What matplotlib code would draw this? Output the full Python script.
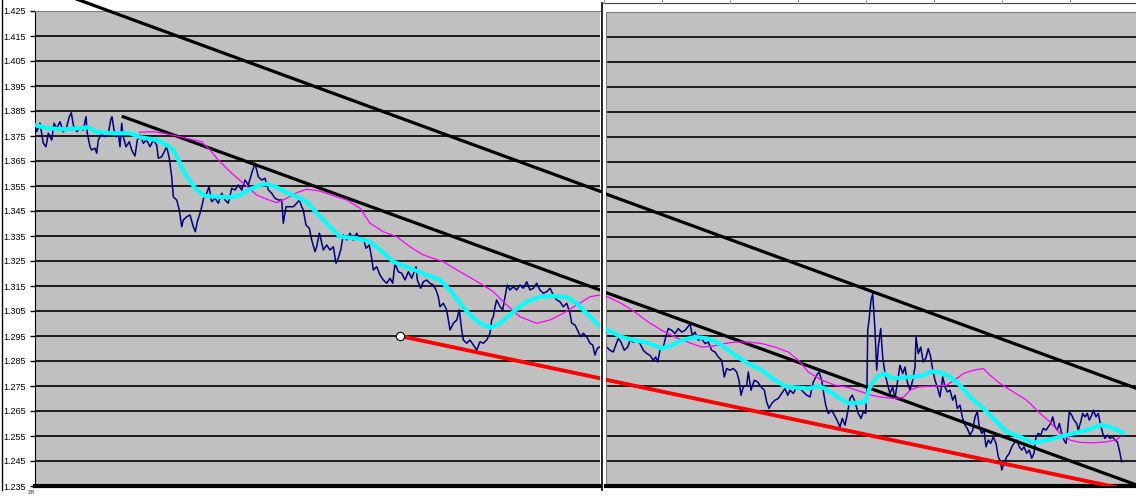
"""
channel chart: price with fast/slow averages and trend lines
"""

import numpy as np
import matplotlib.pyplot as plt
from matplotlib.lines import Line2D

# price (navy), sample index vs quote
price_t = [
    0, 1.7, 5, 8.3, 11, 13.3, 16.7, 19, 21.7, 25, 28.3, 31.7, 34.3, 36.3, 38.3, 41.7,
    45, 48.3, 51, 52.3, 55, 56.7, 60, 61.7, 63.3, 66.7, 70, 73.3, 75.7, 77, 79, 81.7,
    83.3, 85, 86.7, 88.3, 91, 94.3, 96.7, 100, 102.3, 105, 108.3, 111.7, 115, 118.3,
    121.7, 123.3, 126.7, 130, 131.7, 134.3, 136.7, 138.3, 141.7, 144.3, 146.7, 148.3,
    151.7, 155, 158.3, 160.3, 162.3, 165, 166.7, 169, 171.7, 174, 176.7, 180, 183.3,
    186.7, 190, 193.3, 196.7, 200, 203.3, 206.7, 210, 213.3, 216.7, 220, 223.3, 226.7,
    230, 233.3, 236.7, 240, 243.3, 246.7, 248.3, 251, 255, 258.3, 261.7, 264.3, 266.7,
    268.3, 271, 274.3, 276.7, 280, 281.7, 284.3,
    285, 288.3, 291.7, 295, 298.3, 301, 303.3, 305.7, 308.3, 311.7, 315, 318.3, 321.7,
    325, 328.3, 331, 334.3, 336.7, 338.3, 341.7, 345, 348.3, 351.7, 355, 357.7, 360,
    363.3, 366.7, 370, 373.3, 376.7, 381, 382.3, 385.7, 388.3, 391.7, 395, 398.3, 401,
    403.3, 405, 408.3, 411.7, 413.3, 415, 418.3, 421.7, 424.3, 426.7, 428.3, 431.7, 435,
    438.3, 441.7, 445, 448.3, 451.7, 455, 456.7, 458.3, 460, 461.7, 465, 467.7, 470,
    472.3, 475, 478.3, 481.7, 485, 488.3, 491.7, 495, 498.3, 501.7, 505, 508.3, 511.7,
    515, 518.3, 521.7, 525, 528.3, 531.7, 535, 536.7, 540, 543.3, 545.7, 548.3, 551.7,
    555, 557.7, 560, 562.3, 565,
    571.7, 575, 578.3, 580.7, 583.3, 586, 589.3, 592.7, 595, 598.3, 601.7, 605, 608.3,
    611.7, 615, 618.3, 620.7, 622.7, 625, 628.3, 630.7, 633.3, 636.7, 640, 643.3, 646.7,
    650, 652.7, 655, 657.3, 660, 663.3, 666.7, 670, 673.3, 676.7, 680, 683.3, 686.7,
    689.3, 691.7, 695, 698.3, 701.7, 704, 706, 708.3, 711.7, 713.3, 716, 719.3, 722.7,
    726, 729.3, 731.7, 734, 736.7, 740, 743.3, 746.7, 750, 752.7, 755, 758.3, 761.7,
    765, 768.3, 771.7, 775, 778.3, 781.7, 784, 786.7, 788.7, 790.7, 793.3, 796.7, 799.3,
    802, 805, 807.3, 810, 812.7, 815, 817.3, 820, 823.3, 826, 828.3, 830.7, 832, 832.7,
    834, 836, 837.7, 840, 841.7, 843.3, 845.7, 847.7, 850, 852.3, 855, 857.7, 860,
    862.3, 865, 867.7, 870, 872.3, 875, 877.7, 880, 881, 883.3, 885.7, 888.3, 890.7,
    893.3, 895.7, 897.7, 900, 902.3, 905, 907.7, 910, 912.3, 915, 917.7, 920, 922.3,
    925, 927.3, 930, 932.3, 935, 937.7, 940, 942.3, 944.3, 946.7, 949, 951, 953.3,
    955.7, 958.3, 961, 963.3, 965.7, 966.7, 969, 971.7, 974.3, 976.7, 979, 981.7, 984.3,
    986.7, 989, 991.7, 994.3, 996.7, 999, 1001, 1003.3, 1005.7, 1008.3, 1011, 1013.3,
    1015.7, 1017.7, 1020, 1022.3, 1024.3, 1026.7, 1029, 1031, 1032.3, 1034.3, 1036.7,
    1039, 1041.7, 1043.3, 1045.7, 1047.7, 1050, 1052.3, 1054.3, 1056.7, 1058.3, 1061,
    1063.3, 1065, 1067.7, 1070, 1072.3, 1075, 1077.7, 1080, 1082.3, 1084.3, 1086.7,
]
price_v = [
    1.3794, 1.3767, 1.3801, 1.3721, 1.3707, 1.3761, 1.3734, 1.3801, 1.3781, 1.3807,
    1.3767, 1.3787, 1.3827, 1.3843, 1.3794, 1.3767, 1.3781, 1.3774, 1.3827, 1.3761,
    1.3707, 1.3694, 1.3701, 1.3681, 1.3734, 1.3761, 1.3747, 1.3761, 1.3814, 1.3827,
    1.3774, 1.3747, 1.3761, 1.3707, 1.3801, 1.3747, 1.3707, 1.3727, 1.3694, 1.3670,
    1.3734, 1.3754, 1.3721, 1.3734, 1.3707, 1.3734, 1.3714, 1.3661, 1.3667, 1.3694,
    1.3707, 1.3661, 1.3587, 1.3507, 1.3494, 1.3454, 1.3387, 1.3414, 1.3427, 1.3434,
    1.3387, 1.3367, 1.3407, 1.3441, 1.3467, 1.3507, 1.3521, 1.3547, 1.3487, 1.3501,
    1.3481, 1.3521, 1.3494, 1.3481, 1.3541, 1.3534, 1.3554, 1.3534, 1.3574, 1.3554,
    1.3601, 1.3641, 1.3587, 1.3574, 1.3581, 1.3534, 1.3521, 1.3501, 1.3494, 1.3494,
    1.3401, 1.3467, 1.3467, 1.3467, 1.3481, 1.3494, 1.3467, 1.3454, 1.3394, 1.3381,
    1.3334, 1.3287, 1.3307, 1.3361,
    1.3354, 1.3294, 1.3314, 1.3294, 1.3307, 1.3241, 1.3261, 1.3294, 1.3354, 1.3334,
    1.3361, 1.3334, 1.3361, 1.3334, 1.3341, 1.3301, 1.3314, 1.3261, 1.3214, 1.3227,
    1.3194, 1.3174, 1.3161, 1.3181, 1.3161, 1.3241, 1.3207, 1.3201, 1.3174, 1.3207,
    1.3181, 1.3227, 1.3174, 1.3141, 1.3167, 1.3174, 1.3161, 1.3154, 1.3134, 1.3107,
    1.3067, 1.3081, 1.3054, 1.3014, 1.2974, 1.3001, 1.3014, 1.3054, 1.2974, 1.2934,
    1.2921, 1.2934, 1.2914, 1.2894, 1.2927, 1.2921, 1.2934, 1.2961, 1.3014, 1.3027,
    1.3067, 1.3094, 1.3067, 1.3054, 1.3107, 1.3154, 1.3134, 1.3147, 1.3134, 1.3154,
    1.3141, 1.3167, 1.3134, 1.3141, 1.3161, 1.3134, 1.3121, 1.3127, 1.3141, 1.3114,
    1.3094, 1.3087, 1.3067, 1.3081, 1.3041, 1.3001, 1.2994, 1.2967, 1.2947, 1.2961,
    1.2947, 1.2921, 1.2914, 1.2874, 1.2901, 1.2907,
    1.2907, 1.2894, 1.2887, 1.2914, 1.2941, 1.2927, 1.2894, 1.2907, 1.2934, 1.2927,
    1.2934, 1.2921, 1.2894, 1.2881, 1.2874, 1.2854, 1.2867, 1.2847, 1.2894, 1.2907,
    1.2947, 1.2981, 1.2974, 1.2961, 1.2981, 1.2967, 1.2974, 1.2987, 1.3001, 1.2954,
    1.2967, 1.2934, 1.2941, 1.2921, 1.2927, 1.2894, 1.2887, 1.2867, 1.2854, 1.2787,
    1.2821, 1.2814, 1.2821, 1.2807, 1.2774, 1.2714, 1.2747, 1.2754, 1.2807, 1.2734,
    1.2774, 1.2767, 1.2747, 1.2734, 1.2687, 1.2661, 1.2681, 1.2694, 1.2701, 1.2721,
    1.2741, 1.2714, 1.2734, 1.2721, 1.2747, 1.2741, 1.2727, 1.2714, 1.2707, 1.2767,
    1.2794, 1.2807, 1.2774, 1.2721, 1.2674, 1.2641, 1.2654, 1.2634, 1.2614, 1.2587,
    1.2621, 1.2594, 1.2647, 1.2701, 1.2714, 1.2687, 1.2641, 1.2621, 1.2647, 1.2641,
    1.2747, 1.2974, 1.3014, 1.3094, 1.3121, 1.2974, 1.2814, 1.2907, 1.2981, 1.2867,
    1.2801, 1.2761, 1.2721, 1.2747, 1.2701, 1.2761, 1.2834, 1.2801, 1.2827, 1.2767,
    1.2734, 1.2774, 1.2827, 1.2947, 1.2881, 1.2907, 1.2847, 1.2861, 1.2901, 1.2867,
    1.2814, 1.2774, 1.2747, 1.2707, 1.2787, 1.2747, 1.2727, 1.2734, 1.2694, 1.2714,
    1.2661, 1.2674, 1.2627, 1.2594, 1.2581, 1.2554, 1.2574, 1.2627, 1.2647, 1.2587,
    1.2561, 1.2574, 1.2507, 1.2534, 1.2521, 1.2547, 1.2521, 1.2467, 1.2447, 1.2414,
    1.2441, 1.2467, 1.2481, 1.2507, 1.2521, 1.2534, 1.2507, 1.2494, 1.2507, 1.2481,
    1.2494, 1.2461, 1.2481, 1.2547, 1.2561, 1.2554, 1.2581, 1.2574, 1.2587, 1.2601,
    1.2627, 1.2587, 1.2574, 1.2601, 1.2561, 1.2534, 1.2521, 1.2561, 1.2647, 1.2634,
    1.2614, 1.2601, 1.2574, 1.2607, 1.2641, 1.2627, 1.2641, 1.2614, 1.2634, 1.2654,
    1.2627, 1.2641, 1.2607, 1.2561, 1.2541, 1.2554, 1.2541, 1.2547, 1.2534, 1.2527,
    1.2494, 1.2447,
]

# fast average (cyan)
fast_t = [
    0, 11.7, 28.3, 45, 53.3, 61.7, 78.3, 95, 105, 121.7, 131.7, 138.3, 145, 151.7,
    161.7, 170, 181.7, 195, 205, 215, 225, 231.7, 241.7, 251.7, 261.7, 271.7, 284.3,
    288.3, 305, 321.7, 335, 345, 358.3, 375, 391.7, 405, 415, 425, 435, 445, 455, 465,
    478.3, 491.7, 505, 518.3, 531.7, 541.7, 551.7, 565, 573.3, 586.7, 600, 613.3,
    626.7, 636.7, 646.7, 660, 673.3, 686.7, 700, 713.3, 726.7, 740, 750, 760, 773.3,
    783.3, 790, 800, 813.3, 823.3, 830, 835, 841.7, 848.3, 858.3, 868.3, 878.3, 888.3,
    896.7, 906.7, 915, 925, 935, 948.3, 958.3, 971.7, 985, 998.3, 1011.7, 1025, 1038.3,
    1051.7, 1065, 1075, 1087.7,
]
fast_v = [
    1.3794, 1.3781, 1.3777, 1.3781, 1.3785, 1.3765, 1.3761, 1.3761, 1.3745, 1.3734,
    1.3714, 1.3694, 1.3641, 1.3587, 1.3534, 1.3510, 1.3507, 1.3505, 1.3514, 1.3537,
    1.3554, 1.3558, 1.3545, 1.3523, 1.3507, 1.3487, 1.3430, 1.3414, 1.3347, 1.3341,
    1.3327, 1.3294, 1.3247, 1.3221, 1.3194, 1.3174, 1.3134, 1.3081, 1.3034, 1.3001,
    1.2983, 1.3001, 1.3047, 1.3087, 1.3107, 1.3110, 1.3105, 1.3081, 1.3041, 1.2987,
    1.2974, 1.2947, 1.2934, 1.2923, 1.2901, 1.2914, 1.2934, 1.2947, 1.2941, 1.2914,
    1.2874, 1.2841, 1.2814, 1.2774, 1.2750, 1.2745, 1.2741, 1.2750, 1.2741, 1.2714,
    1.2681, 1.2684, 1.2687, 1.2747, 1.2787, 1.2801, 1.2781, 1.2785, 1.2787, 1.2794,
    1.2810, 1.2803, 1.2787, 1.2754, 1.2707, 1.2661, 1.2621, 1.2567, 1.2547, 1.2523,
    1.2534, 1.2547, 1.2561, 1.2574, 1.2594, 1.2587, 1.2563,
]

# slow average (magenta)
slow_t = [
    104.3, 118.3, 128.3, 145, 166.7, 175, 183.3, 195, 208.3, 221.7, 231.7, 241.7,
    251.7, 261.7, 271.7, 284.3, 311.7, 325, 335, 348.3, 361.7, 375, 388.3, 408.3, 425,
    445, 458.3, 471.7, 485, 501.7, 515, 528.3, 541.7, 555, 565, 573.3, 586.7, 600,
    613.3, 626.7, 643.3, 656.7, 666.7, 676.7, 690, 700, 713.3, 726.7, 740, 753.3,
    763.3, 773.3, 786.7, 800, 813.3, 826.7, 836.7, 845, 858.3, 868.3, 875, 883.3,
    898.3, 911.7, 921.7, 928.3, 938.3, 948.3, 955, 965, 978.3, 991.7, 1005, 1015,
    1025, 1035, 1045, 1058.3, 1071.7, 1081.7, 1085,
]
slow_v = [
    1.3765, 1.3767, 1.3761, 1.3747, 1.3727, 1.3694, 1.3654, 1.3607, 1.3561, 1.3514,
    1.3497, 1.3483, 1.3501, 1.3523, 1.3537, 1.3530, 1.3494, 1.3461, 1.3401, 1.3367,
    1.3347, 1.3307, 1.3274, 1.3247, 1.3207, 1.3161, 1.3127, 1.3074, 1.3027, 1.3001,
    1.3014, 1.3041, 1.3074, 1.3107, 1.3114, 1.3107, 1.3081, 1.3047, 1.3007, 1.2974,
    1.2941, 1.2921, 1.2907, 1.2910, 1.2921, 1.2927, 1.2927, 1.2921, 1.2907, 1.2887,
    1.2854, 1.2807, 1.2774, 1.2754, 1.2745, 1.2727, 1.2714, 1.2707, 1.2701, 1.2705,
    1.2734, 1.2747, 1.2750, 1.2754, 1.2781, 1.2801, 1.2814, 1.2821, 1.2794, 1.2761,
    1.2727, 1.2694, 1.2641, 1.2607, 1.2561, 1.2534, 1.2525, 1.2523, 1.2527, 1.2536,
    1.2547,
]

# trend lines: (t0, t1), (v0, v1)
upper_t, upper_v = [40, 1101], [1.4300, 1.2742]
lower_t, lower_v = [88.3, 1101], [1.3827, 1.2355]
support_t, support_v = [365, 1101], [1.2950, 1.2328]

y_ticks = np.arange(1.235, 1.4251, 0.01)
left_span = (0, 565)
right_span = (571, 1101)

W, H = 1136, 496
fig = plt.figure(figsize=(W / 100, H / 100), dpi=100)
fig.patch.set_facecolor("white")

ax_l = fig.add_axes([35 / W, 10 / H, 565 / W, 475 / H])
ax_r = fig.add_axes([606 / W, 10 / H, 530 / W, 474 / H])

for ax, span in ((ax_l, left_span), (ax_r, right_span)):
    ax.set_facecolor("#c0c0c0")
    ax.set_xlim(*span)
    ax.set_ylim(y_ticks[0], y_ticks[-1])
    for y in y_ticks[1:-1]:
        ax.axhline(y, color="black", lw=1.2, zorder=1)
    ax.plot(price_t, price_v, color="#000080", lw=1.1, zorder=2)
    ax.plot(lower_t, lower_v, color="black", lw=2.3, zorder=3)
    ax.plot(slow_t, slow_v, color="#ff00ff", lw=0.9, zorder=4)
    ax.plot(fast_t, fast_v, color="#00ffff", lw=3.0, zorder=5)
    ax.plot(support_t, support_v, color="red", lw=2.8, zorder=6)
    ax.set_xticks([])
    ax.spines["right"].set_visible(False)
    ax.spines["top"].set_color("#808080")
    ax.spines["bottom"].set_linewidth(3)
    ax.spines["bottom"].set_color("black")

# upper channel line runs off the top of the left pane
up_end = np.interp(left_span[1], upper_t, upper_v)
ax_l.plot([upper_t[0], left_span[1]], [upper_v[0], up_end],
          color="black", lw=2.3, zorder=3, clip_on=False)
ax_r.plot(upper_t, upper_v, color="black", lw=2.3, zorder=3)

ax_l.plot(support_t[0], support_v[0], "o", ms=6, mfc="white", mec="black",
          mew=0.8, zorder=7)

ax_l.set_yticks(y_ticks)
ax_l.set_yticklabels([f"{v:.3f}" for v in y_ticks], fontsize=6.5,
                     family="Liberation Sans")
ax_l.tick_params(axis="y", length=3.5, width=1, pad=3, color="black")
ax_l.spines["left"].set_color("black")
ax_r.set_yticks([])
ax_r.spines["left"].set_color("#808080")

# window frame bits
def fig_line(xs, ys, **kw):
    fig.add_artist(Line2D([x / W for x in xs], [1 - y / H for y in ys],
                          transform=fig.transFigure, **kw))

fig_line([1.5, 1.5], [0, 490], color="black", lw=1)
fig_line([602, 602], [3, 490], color="black", lw=1.2)
fig_line([602, W], [3, 3], color="#404040", lw=0.8)
for x in [604, 662, 730, 798, 866, 934, 1002, 1070]:
    fig_line([x, x], [0, 3], color="#a0a0a0", lw=0.8)
fig.text(31 / W, 0.5 / H, "28", fontsize=4.5, family="Liberation Sans",
         ha="center", va="bottom", color="#404040")

fig.savefig("out.png", dpi=100)
